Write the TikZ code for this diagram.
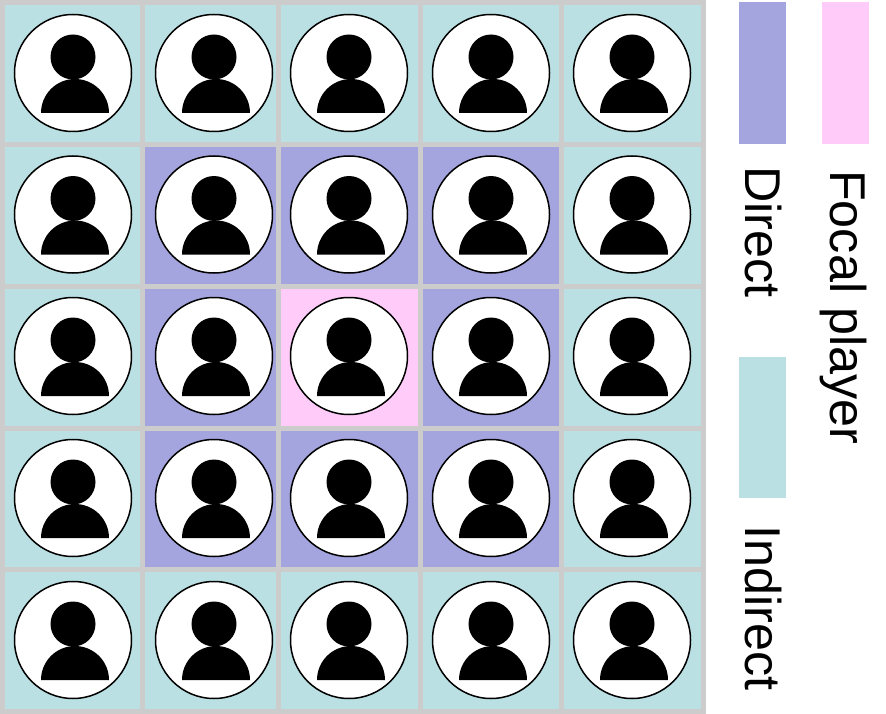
\documentclass[tikz,border=0pt]{standalone}
\usepackage{fontspec}
\setmainfont{Liberation Sans}
\definecolor{indirectc}{HTML}{BAE0E3}
\definecolor{directc}{HTML}{A4A4DE}
\definecolor{focalc}{HTML}{FFCCF9}
\definecolor{gridc}{HTML}{CCCCCC}
\tikzset{
  gridline/.style={draw=gridc,line width=5pt},
  legendtext/.style={rotate=-90,anchor=base west,inner sep=0pt,font=\fontsize{50.3pt}{50.3pt}\selectfont},
  facecircle/.style={draw=black,fill=white,line width=1.5pt},
  person/.style={fill=black,draw=none}
}
\begin{document}
\begin{tikzpicture}[x=1pt,y=-1pt]
\useasboundingbox (0,0) rectangle (886,714);
\fill[white] (0,0) rectangle (886,714);
% cell fills
\fill[indirectc] (2.5,2.5) rectangle (703.5,711.5);
\fill[directc] (142.5,144.5) rectangle (561.5,569.5);
\fill[focalc] (278.5,286.5) rectangle (420.5,428);
% grid lines
\foreach \gx in {2.5,142.5,278.5,420.5,561.5,703.5}
  \draw[gridline] (\gx,0) -- (\gx,714);
\foreach \gy in {2.5,144.5,286.5,428,569.5,711.5}
  \draw[gridline] (0,\gy) -- (706,\gy);
% players
\foreach \cx in {73,214,349,491,632}
  \foreach \cy in {73,214.5,356,498,640} {
    \begin{scope}[shift={(\cx,\cy)}]
      \draw[facecircle] (0,0) circle[radius=58.5];
      \fill[person] (0,-16) circle[radius=22.5];
      \fill[person] (-32,40) arc[start angle=180,end angle=0,x radius=34,y radius=-34] -- cycle;
    \end{scope}
  }
% legend
\fill[directc] (739,2) rectangle (786,144);
\fill[focalc] (822,2) rectangle (869,144);
\fill[indirectc] (739,357) rectangle (786,498);
\node[legendtext] (direct) at (745,166) {Direct};
\node[legendtext] (focal) at (830,170) {Focal player};
\node[legendtext] (indirect) at (745,525.5) {Indirect};
\end{tikzpicture}
\end{document}
